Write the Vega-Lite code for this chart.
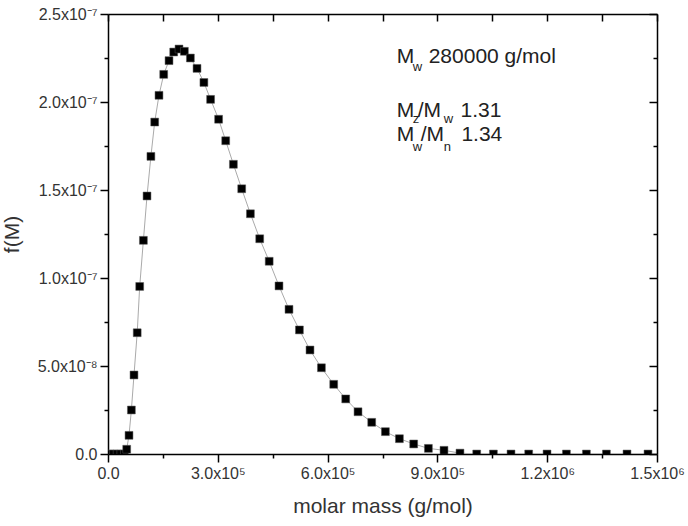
{
  "$schema": "https://vega.github.io/schema/vega-lite/v6.json",
  "width": 549,
  "height": 440,
  "autosize": {"type": "none"},
  "padding": {"left": 108, "top": 14, "right": 31, "bottom": 72},
  "background": "white",
  "config": {
    "view": {"stroke": null},
    "axis": {
      "grid": false,
      "domainColor": "#000",
      "domainWidth": 1.5,
      "tickColor": "#000",
      "tickWidth": 1.5,
      "labelFont": "Liberation Sans",
      "labelFontSize": 16,
      "labelColor": "#333",
      "titleFont": "Liberation Sans",
      "titleFontWeight": "normal",
      "titleColor": "#333",
      "titleFontSize": 21
    }
  },
  "datasets": {
    "dist": [
      {"M": 5000, "f": 0},
      {"M": 15000, "f": 0},
      {"M": 25000, "f": 0},
      {"M": 35000, "f": 0},
      {"M": 45000, "f": 0},
      {"M": 51100, "f": 2.7e-9},
      {"M": 57400, "f": 1.06e-8},
      {"M": 63900, "f": 2.50e-8},
      {"M": 71000, "f": 4.49e-8},
      {"M": 79800, "f": 6.89e-8},
      {"M": 86600, "f": 9.52e-8},
      {"M": 96700, "f": 1.214e-7},
      {"M": 106600, "f": 1.466e-7},
      {"M": 117200, "f": 1.691e-7},
      {"M": 127600, "f": 1.886e-7},
      {"M": 139300, "f": 2.038e-7},
      {"M": 152200, "f": 2.157e-7},
      {"M": 166700, "f": 2.235e-7},
      {"M": 179500, "f": 2.284e-7},
      {"M": 194000, "f": 2.301e-7},
      {"M": 208700, "f": 2.288e-7},
      {"M": 225100, "f": 2.250e-7},
      {"M": 243200, "f": 2.191e-7},
      {"M": 262000, "f": 2.111e-7},
      {"M": 280300, "f": 2.015e-7},
      {"M": 302200, "f": 1.902e-7},
      {"M": 321600, "f": 1.780e-7},
      {"M": 342600, "f": 1.646e-7},
      {"M": 365300, "f": 1.507e-7},
      {"M": 389100, "f": 1.365e-7},
      {"M": 414500, "f": 1.223e-7},
      {"M": 440400, "f": 1.095e-7},
      {"M": 467200, "f": 9.55e-8},
      {"M": 494500, "f": 8.22e-8},
      {"M": 523000, "f": 7.05e-8},
      {"M": 551900, "f": 5.91e-8},
      {"M": 583100, "f": 4.90e-8},
      {"M": 616700, "f": 3.96e-8},
      {"M": 649500, "f": 3.13e-8},
      {"M": 683100, "f": 2.40e-8},
      {"M": 720500, "f": 1.80e-8},
      {"M": 757900, "f": 1.27e-8},
      {"M": 796200, "f": 8.7e-9},
      {"M": 835200, "f": 5.7e-9},
      {"M": 875400, "f": 3.2e-9},
      {"M": 918000, "f": 2.1e-9},
      {"M": 961700, "f": 5e-10},
      {"M": 1007400, "f": 0},
      {"M": 1053000, "f": 0},
      {"M": 1101100, "f": 0},
      {"M": 1149400, "f": 0},
      {"M": 1199500, "f": 0},
      {"M": 1252500, "f": 0},
      {"M": 1307100, "f": 0},
      {"M": 1361800, "f": 0},
      {"M": 1418000, "f": 0},
      {"M": 1475400, "f": 0}
    ],
    "main": [
      {"M": 788800, "f": 2.222e-7, "label": "M"},
      {"M": 876200, "f": 2.222e-7, "label": "280000 g/mol"},
      {"M": 788800, "f": 1.915e-7, "label": "M"},
      {"M": 846200, "f": 1.915e-7, "label": "/M"},
      {"M": 963000, "f": 1.915e-7, "label": "1.31"},
      {"M": 788800, "f": 1.776e-7, "label": "M"},
      {"M": 854300, "f": 1.776e-7, "label": "/M"},
      {"M": 965600, "f": 1.776e-7, "label": "1.34"}
    ],
    "sub": [
      {"M": 832500, "f": 2.176e-7, "label": "w"},
      {"M": 832500, "f": 1.881e-7, "label": "z"},
      {"M": 917200, "f": 1.881e-7, "label": "w"},
      {"M": 832500, "f": 1.722e-7, "label": "w"},
      {"M": 917200, "f": 1.722e-7, "label": "n"}
    ]
  },
  "layer": [
    {
      "data": {"name": "dist"},
      "mark": {"type": "line", "color": "#aaaaaa", "strokeWidth": 1, "clip": true},
      "encoding": {
        "x": {
          "field": "M", "type": "quantitative",
          "scale": {"domain": [0, 1500000], "nice": false, "zero": false},
          "axis": {
            "orient": "bottom",
            "values": [0, 150000, 300000, 450000, 600000, 750000, 900000, 1050000, 1200000, 1350000, 1500000],
            "labelExpr": "datum.value==0?'0.0':datum.value==300000?'3.0x10⁵':datum.value==600000?'6.0x10⁵':datum.value==900000?'9.0x10⁵':datum.value==1200000?'1.2x10⁶':datum.value==1500000?'1.5x10⁶':''",
            "tickSize": {"condition": {"test": "round(datum.value/150000)%2==1", "value": 4}, "value": 8},
            "labelPadding": 3,
            "labelOverlap": false,
            "labelFlush": false,
            "title": "molar mass (g/mol)",
            "titleBaseline": "alphabetic",
            "titleY": 58
          }
        },
        "y": {
          "field": "f", "type": "quantitative",
          "scale": {"domain": [0, 2.5e-7], "nice": false, "zero": false},
          "axis": {
            "orient": "left",
            "values": [0, 2.5e-8, 5e-8, 7.5e-8, 1e-7, 1.25e-7, 1.5e-7, 1.75e-7, 2e-7, 2.25e-7, 2.5e-7],
            "labelExpr": "round(datum.value/2.5e-8)%2==1?'':['0.0','5.0x10⁻⁸','1.0x10⁻⁷','1.5x10⁻⁷','2.0x10⁻⁷','2.5x10⁻⁷'][round(datum.value/5e-8)]",
            "tickSize": {"condition": {"test": "round(datum.value/2.5e-8)%2==1", "value": 4}, "value": 8},
            "labelPadding": 3,
            "labelOverlap": false,
            "labelFlush": false,
            "title": "f(M)",
            "titlePadding": 15
          }
        }
      }
    },
    {
      "data": {"name": "dist"},
      "mark": {"type": "point", "shape": "square", "filled": true, "color": "#000", "opacity": 1, "size": 62, "stroke": "#555", "strokeWidth": 0.5, "clip": true},
      "encoding": {
        "x": {
          "field": "M", "type": "quantitative",
          "scale": {"domain": [0, 1500000], "nice": false, "zero": false},
          "axis": {
            "orient": "top",
            "values": [0, 150000, 300000, 450000, 600000, 750000, 900000, 1050000, 1200000, 1350000, 1500000],
            "labels": false,
            "tickSize": -7,
            "title": null
          }
        },
        "y": {
          "field": "f", "type": "quantitative",
          "scale": {"domain": [0, 2.5e-7], "nice": false, "zero": false},
          "axis": {
            "orient": "right",
            "values": [0, 2.5e-8, 5e-8, 7.5e-8, 1e-7, 1.25e-7, 1.5e-7, 1.75e-7, 2e-7, 2.25e-7, 2.5e-7],
            "labels": false,
            "tickSize": {"condition": {"test": "round(datum.value/2.5e-8)%2==1", "value": -4}, "value": -8},
            "title": null
          }
        }
      }
    },
    {
      "data": {"name": "main"},
      "mark": {"type": "text", "align": "left", "baseline": "alphabetic", "fontSize": 21, "font": "Liberation Sans", "color": "#222"},
      "encoding": {
        "x": {"field": "M", "type": "quantitative", "axis": null},
        "y": {"field": "f", "type": "quantitative", "axis": null},
        "text": {"field": "label"}
      }
    },
    {
      "data": {"name": "sub"},
      "mark": {"type": "text", "align": "left", "baseline": "alphabetic", "fontSize": 13, "font": "Liberation Sans", "color": "#222"},
      "encoding": {
        "x": {"field": "M", "type": "quantitative", "axis": null},
        "y": {"field": "f", "type": "quantitative", "axis": null},
        "text": {"field": "label"}
      }
    }
  ],
  "resolve": {"axis": {"x": "independent", "y": "independent"}}
}
